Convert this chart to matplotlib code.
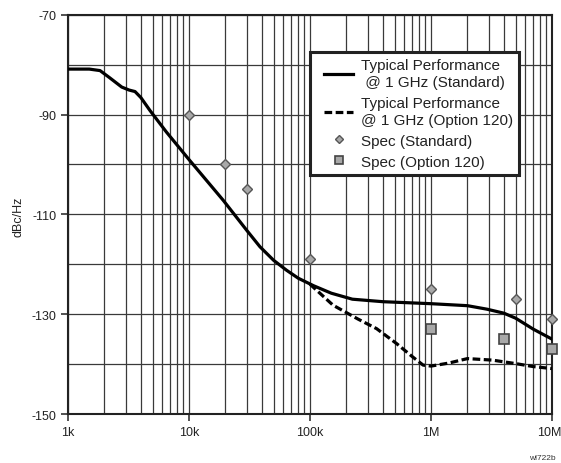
import numpy as np
import matplotlib
matplotlib.use('Agg')
import matplotlib.pyplot as plt
from matplotlib.lines import Line2D
from matplotlib.legend_handler import HandlerLine2D
from matplotlib.ticker import FixedLocator, LogLocator, NullFormatter
from matplotlib.transforms import ScaledTranslation

plt.rcParams['font.family'] = ['Liberation Sans', 'DejaVu Sans']
plt.rcParams['axes.unicode_minus'] = False

# Typical performance, standard
std_f = [1e3, 1.5e3, 1.84e3, 2.2e3, 2.78e3, 3.2e3, 3.58e3, 4.0e3, 4.76e3, 6.5e3, 9.9e3, 19.2e3,
         30e3, 38.6e3, 50e3, 64e3, 80e3, 107e3, 150e3, 224e3, 400e3, 1e6, 2e6, 2.9e6, 4e6, 5e6,
         7e6, 10e6]
std_db = [-80.9, -80.9, -81.2, -82.6, -84.5, -85.1, -85.4, -86.6, -89.2, -93.5, -98.9, -107.2,
          -113.2, -116.5, -119.2, -121.2, -122.8, -124.3, -125.8, -127, -127.5, -127.9, -128.3,
          -129, -129.8, -130.8, -133, -135]

# Typical performance, option 120
opt_f = [100e3, 155e3, 250e3, 355e3, 520e3, 700e3, 860e3, 1e6, 1.4e6, 2e6, 3.2e6, 5e6, 7e6, 10e6]
opt_db = [-124, -128.2, -131, -132.9, -135.9, -138.5, -140.2, -140.4, -139.8, -138.9, -139.2,
          -139.9, -140.5, -140.9]

# Spec points
spec_std_f = [10e3, 20e3, 30e3, 100e3, 1e6, 5e6, 10e6]
spec_std_db = [-90, -100, -105, -119, -125, -127, -131]
spec_opt_f = [1e6, 4e6, 10e6]
spec_opt_db = [-133, -135, -137]

fig = plt.figure(figsize=(5.61, 4.64), dpi=100)
ax = fig.add_axes([0.1212, 0.1056, 0.8628, 0.8606])

ax.plot(std_f, std_db, color='black', lw=2.3,
        label='Typical Performance\n @ 1 GHz (Standard)', zorder=4)
ax.plot(opt_f, opt_db, color='black', lw=2.3, ls=(0, (2.4, 1.1)),
        label='Typical Performance\n@ 1 GHz (Option 120)', zorder=4)
ax.plot(spec_std_f, spec_std_db, ls='none', marker='D', ms=5.5, mfc='#a8a8a8', mec='#555555',
        mew=1.0, label='Spec (Standard)', zorder=5, clip_on=False)
ax.plot(spec_opt_f, spec_opt_db, ls='none', marker='s', ms=7, mfc='#a8a8a8', mec='#444444',
        mew=1.2, label='Spec (Option 120)', zorder=5, clip_on=False)

ax.set_xscale('log')
ax.set_xlim(1e3, 1e7)
ax.set_ylim(-150, -70)
ax.set_xticks([1e3, 1e4, 1e5, 1e6, 1e7])
ax.set_xticklabels(['1k', '10k', '100k', '1M', '10M'])
ax.xaxis.set_minor_locator(LogLocator(base=10, subs=np.arange(2, 10)))
ax.xaxis.set_minor_formatter(NullFormatter())
ax.set_yticks([-70, -90, -110, -130, -150])
ax.yaxis.set_minor_locator(FixedLocator([-80, -100, -120, -140]))
ax.tick_params(axis='both', which='major', direction='out', length=5, width=1.2,
               labelsize=9, color='#333333', labelcolor='#222222')
ax.tick_params(axis='both', which='minor', length=0)
ax.grid(True, which='both', color='#3a3a3a', lw=0.9)
for s in ax.spines.values():
    s.set_linewidth(1.5)
    s.set_color('#222222')

# nudge the last x label so it stays inside the figure
last = ax.get_xticklabels()[-1]
last.set_transform(last.get_transform() + ScaledTranslation(-3 / 100, 0, fig.dpi_scale_trans))

ax.set_ylabel('dBc/Hz', fontsize=9, color='#222222')
ax.yaxis.set_label_coords(-0.089, 0.496)

leg = ax.legend(loc='upper right', bbox_to_anchor=(0.932, 0.907), borderaxespad=0,
                fontsize=11, fancybox=False, framealpha=1, edgecolor='#222222',
                handlelength=2.42, handletextpad=0.5, borderpad=0.4, labelspacing=0.45,
                markerscale=0.8, handler_map={Line2D: HandlerLine2D(xpad=0.52)})
leg.get_frame().set_linewidth(2.2)
for t in leg.get_texts():
    t.set_color('#222222')
    t.set_linespacing(1.28)

fig.text(0.943, 0.0085, 'wl722b', fontsize=6, color='#333333')

fig.savefig('out.png', dpi=100)
